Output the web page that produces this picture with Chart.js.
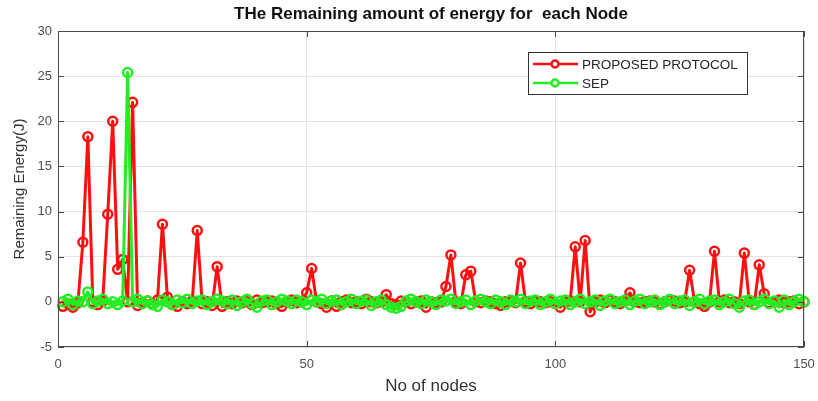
<!DOCTYPE html>
<html>
<head>
<meta charset="utf-8">
<script src="https://cdn.jsdelivr.net/npm/chart.js@4.4.1/dist/chart.umd.min.js"></script>
<style>
  body { margin: 0; background: #fff; }
  canvas { display: block; }
</style>
</head>
<body>
<canvas id="energy-chart" width="818" height="401"></canvas>
<script>
var FONT = '"Liberation Sans", Arial, sans-serif';

// node numbers 1..150
var nodes = [];
for (var n = 1; n <= 150; n++) nodes.push(n);

var proposed = [
  -0.5, -0.2, -0.6, -0.1, 6.6, 18.3, 0.0, -0.3, 0.1, 9.7,
  20.0, 3.6, 4.7, 0.0, 22.1, -0.4, -0.1, 0.1, -0.2, 0.2,
  8.6, 0.5, -0.3, -0.5, 0.0, -0.2, 0.1, 7.9, -0.2, 0.0,
  -0.4, 3.9, -0.5, 0.0, -0.2, 0.1, -0.1, 0.0, -0.3, 0.2,
  -0.1, 0.0, 0.1, -0.2, -0.5, 0.0, 0.2, -0.1, 0.0, 1.0,
  3.7, 0.0, -0.2, -0.6, 0.1, -0.5, 0.0, 0.2, -0.1, 0.0,
  -0.2, 0.3, 0.0, -0.1, 0.0, 0.8, -0.2, -0.3, 0.1, 0.0,
  -0.2, 0.0, 0.1, -0.6, 0.0, -0.1, 0.0, 1.7, 5.2, 0.0,
  -0.2, 3.0, 3.4, 0.0, -0.1, 0.1, 0.0, -0.2, -0.4, 0.0,
  0.1, -0.1, 4.3, 0.0, -0.2, 0.1, 0.0, -0.1, 0.0, -0.2,
  -0.6, 0.0, 0.1, 6.1, 0.0, 6.8, -1.1, 0.0, 0.2, -0.1,
  0.2, 0.0, -0.2, 0.1, 1.0, 0.0, -0.1, 0.0, 0.1, 0.0,
  -0.2, 0.0, 0.2, 0.1, -0.1, 0.0, 3.5, 0.0, -0.2, -0.5,
  0.0, 5.6, 0.0, 0.2, -0.1, 0.0, -0.2, 5.4, 0.0, -0.3,
  4.1, 0.9, -0.1, 0.0, 0.2, -0.1, 0.0, 0.1, -0.2, 0.0
];

var sep = [
  0.0, 0.3, -0.3, 0.1, 0.0, 1.1, -0.2, 0.1, 0.3, -0.2,
  0.0, -0.3, 0.1, 25.4, 0.0, 0.3, -0.2, 0.1, -0.3, -0.5,
  0.2, 0.0, -0.3, 0.2, -0.1, 0.3, -0.2, 0.1, 0.2, -0.3,
  0.0, 0.3, 0.1, -0.2, 0.2, -0.4, 0.0, 0.3, -0.2, -0.6,
  0.1, 0.2, -0.3, 0.0, 0.3, 0.1, -0.2, 0.2, 0.0, -0.3,
  0.2, 0.0, 0.3, -0.2, 0.1, 0.2, -0.3, 0.0, 0.3, -0.2,
  0.1, 0.2, -0.4, 0.0, 0.2, -0.3, -0.6, -0.7, -0.5, 0.1,
  0.3, 0.0, -0.2, 0.2, 0.0, -0.3, 0.2, 0.1, 0.3, -0.2,
  0.0, 0.2, -0.3, 0.1, 0.3, 0.0, -0.2, 0.2, 0.0, -0.3,
  0.2, 0.0, 0.3, -0.2, 0.1, 0.2, -0.3, 0.0, 0.3, -0.2,
  0.1, 0.2, -0.3, 0.0, 0.3, -0.2, 0.0, 0.2, -0.4, 0.1,
  0.3, -0.2, 0.0, 0.2, -0.3, 0.1, 0.3, -0.2, 0.0, 0.2,
  -0.3, 0.0, 0.3, -0.2, 0.1, 0.2, -0.4, 0.0, 0.3, -0.2,
  0.1, 0.2, -0.3, 0.0, 0.3, -0.2, -0.6, 0.1, 0.2, -0.3,
  0.0, 0.3, -0.2, 0.1, -0.6, 0.2, -0.3, 0.0, 0.3, 0.0
];

var xTicks = [0, 50, 100, 150];
var yTicks = [-5, 0, 5, 10, 15, 20, 25, 30];

var RED = '#ff1010';
var GREEN = '#22ee22';

function toPoints(values) {
  return values.map(function (v, i) { return { x: nodes[i], y: v }; });
}

// matlab-like box, inner ticks and legend
var boxPlugin = {
  id: 'boxPlugin',
  afterDraw: function (chart) {
    var ctx = chart.ctx;
    var a = chart.chartArea;
    var xs = chart.scales.x, ys = chart.scales.y;
    ctx.save();
    ctx.strokeStyle = '#4a4a4a';
    ctx.lineWidth = 1;
    ctx.strokeRect(a.left + 0.5, a.top + 0.5, a.right - a.left - 1, a.bottom - a.top - 1);
    ctx.beginPath();
    xTicks.forEach(function (t) {
      var px = Math.round(xs.getPixelForValue(t)) + 0.5;
      ctx.moveTo(px, a.bottom); ctx.lineTo(px, a.bottom - 6);
      ctx.moveTo(px, a.top); ctx.lineTo(px, a.top + 6);
    });
    yTicks.forEach(function (t) {
      var py = Math.round(ys.getPixelForValue(t)) + 0.5;
      ctx.moveTo(a.left, py); ctx.lineTo(a.left + 6, py);
      ctx.moveTo(a.right, py); ctx.lineTo(a.right - 6, py);
    });
    ctx.stroke();

    // legend box
    var lx = 528, ly = 52, lw = 219, lh = 42;
    ctx.fillStyle = '#fff';
    ctx.fillRect(lx, ly, lw, lh);
    ctx.strokeStyle = '#333';
    ctx.strokeRect(lx + 0.5, ly + 0.5, lw, lh);
    var entries = [chart.data.datasets[1], chart.data.datasets[0]];
    entries.forEach(function (ds, i) {
      var y = ly + 12 + i * 19;
      ctx.strokeStyle = ds.borderColor;
      ctx.lineWidth = 2.5;
      ctx.beginPath();
      ctx.moveTo(lx + 5, y); ctx.lineTo(lx + 50, y);
      ctx.stroke();
      ctx.beginPath();
      ctx.arc(lx + 27, y, 3.5, 0, Math.PI * 2);
      ctx.fillStyle = '#fff';
      ctx.fill();
      ctx.stroke();
      ctx.fillStyle = '#262626';
      ctx.font = '13.5px ' + FONT;
      ctx.textBaseline = 'middle';
      ctx.textAlign = 'left';
      ctx.fillText(ds.label, lx + 54, y + 1);
    });
    ctx.restore();
  }
};

new Chart(document.getElementById('energy-chart'), {
  type: 'line',
  data: {
    datasets: [
      {
        label: 'SEP',
        data: toPoints(sep),
        borderColor: GREEN,
        backgroundColor: '#fff',
        pointBorderColor: GREEN,
        borderWidth: 3,
        borderJoinStyle: 'round',
        pointRadius: 4.5,
        pointBorderWidth: 2.5,
        pointBackgroundColor: 'rgba(255,255,255,0)',
        tension: 0,
        clip: 8,
        order: 0
      },
      {
        label: 'PROPOSED PROTOCOL',
        data: toPoints(proposed),
        borderColor: RED,
        backgroundColor: '#fff',
        pointBorderColor: RED,
        borderWidth: 3,
        borderJoinStyle: 'round',
        pointRadius: 4.5,
        pointBorderWidth: 2.5,
        pointBackgroundColor: 'rgba(255,255,255,0)',
        tension: 0,
        clip: 8,
        order: 1
      }
    ]
  },
  options: {
    responsive: false,
    animation: false,
    layout: { padding: { left: 0, right: 14, top: 0, bottom: 0 } },
    plugins: {
      legend: { display: false },
      tooltip: { enabled: false },
      title: {
        display: true,
        fullSize: false,
        text: 'THe Remaining amount of energy for  each Node',
        color: '#111',
        font: { family: FONT, size: 17, weight: 'bold' },
        padding: { top: 4.6, bottom: 6 }
      }
    },
    scales: {
      x: {
        type: 'linear',
        min: 0,
        max: 150,
        afterBuildTicks: function (scale) {
          scale.ticks = xTicks.map(function (v) { return { value: v }; });
        },
        afterFit: function (scale) {
          scale.height = 54;
          scale.paddingLeft = 0;
          scale.paddingRight = 0;
        },
        grid: { color: '#e3e3e3', drawTicks: false },
        border: { display: false },
        ticks: { color: '#4d4d4d', font: { family: FONT, size: 13 }, padding: 10, maxRotation: 0 },
        title: {
          display: true,
          text: 'No of nodes',
          color: '#333',
          font: { family: FONT, size: 17 },
          padding: { top: 0, bottom: 4 }
        }
      },
      y: {
        min: -5,
        max: 30,
        afterBuildTicks: function (scale) {
          scale.ticks = yTicks.map(function (v) { return { value: v }; });
        },
        afterFit: function (scale) {
          scale.width = 58;
          scale.paddingTop = 0;
          scale.paddingBottom = 0;
        },
        grid: { color: '#e3e3e3', drawTicks: false },
        border: { display: false },
        ticks: { color: '#4d4d4d', font: { family: FONT, size: 13 }, padding: 6 },
        title: {
          display: true,
          text: 'Remaining Energy(J)',
          color: '#333',
          font: { family: FONT, size: 15 },
          padding: { top: 11, bottom: 0 }
        }
      }
    }
  },
  plugins: [boxPlugin]
});
</script>
</body>
</html>
